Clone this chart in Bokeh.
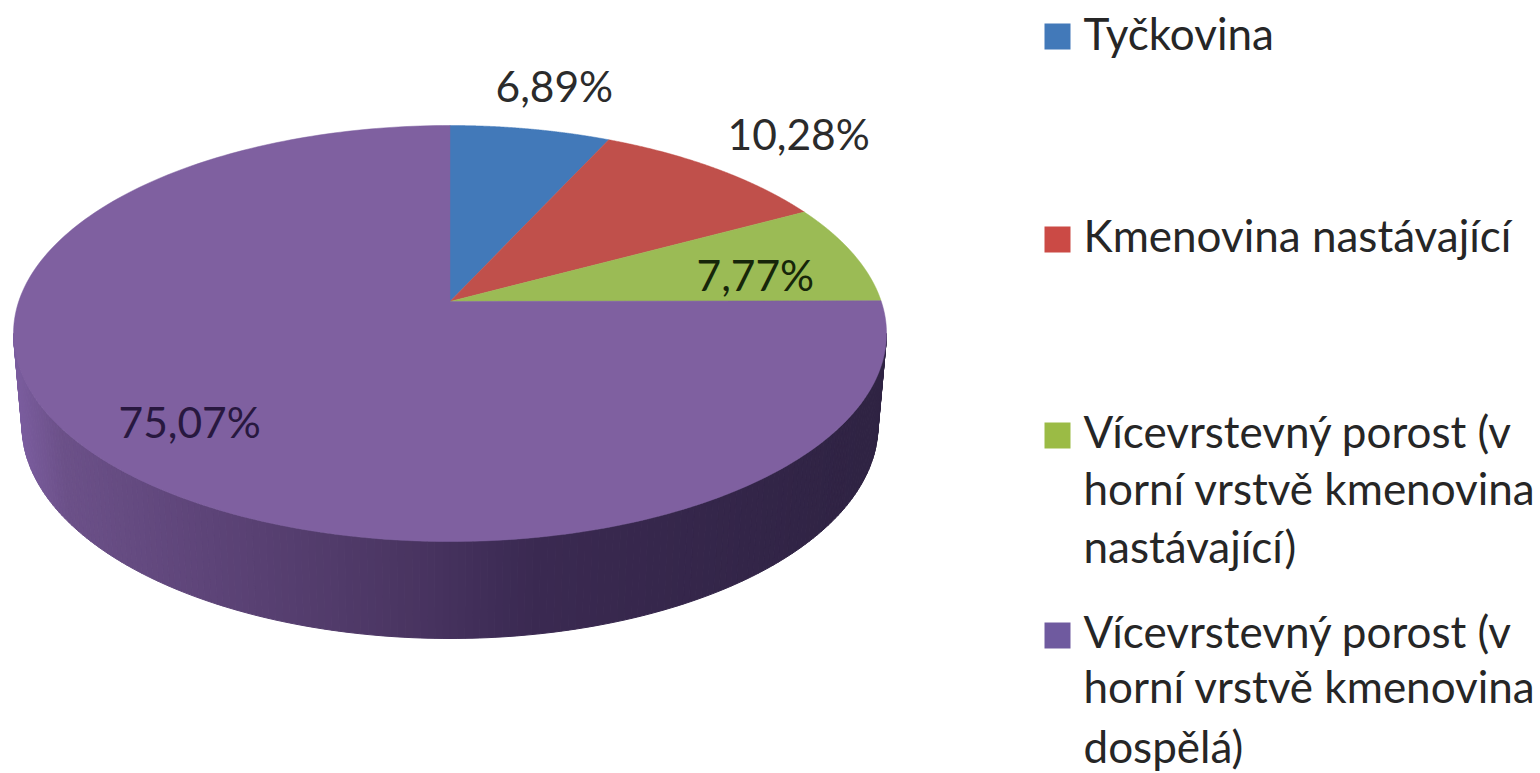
import numpy as np
from bokeh.embed import file_html
from bokeh.resources import INLINE
from bokeh.plotting import figure
from bokeh.models import Range1d
from bokeh.core.properties import value

# ---- data
categories = ["Tyčkovina", "Kmenovina nastávající",
              "Vícevrstevný porost (v horní vrstvě kmenovina nastávající)",
              "Vícevrstevný porost (v horní vrstvě kmenovina dospělá)"]
shares = [6.89, 10.28, 7.77, 75.07]
share_labels = ["6,89%", "10,28%", "7,77%", "75,07%"]
legend_lines = [["Tyčkovina"], ["Kmenovina nastávající"],
                ["Vícevrstevný porost (v", "horní vrstvě kmenovina", "nastávající)"],
                ["Vícevrstevný porost (v", "horní vrstvě kmenovina", "dospělá)"]]

# ---- style and layout
colors = ["#4279b9", "#c0504b", "#9bbb55", "#7f60a0"]
swatch = ["#4279b9", "#cb4a45", "#9bbb45", "#6f5a9f"]
label_colors = ["#2b2b2b", "#2b2b2b", "#16260a", "#28183f"]
label_x = [495, 727, 696, 118]
label_y = [85, 133, 274, 421]
legend_x, swatch_x = 1083, 1057
legend_rows = [[32], [234], [430, 487, 545], [630, 685, 745]]
swatch_y = [36, 239, 435, 635]
FONT = "Lato"
LABEL_SIZE, LEGEND_SIZE = "42.5px", "44px"
W, H = 1540, 773

# pie in perspective: top ellipse, bottom ellipse, apex offset
cx, cy, rx, ry = 449.5, 333.0, 436.5, 208.0
bx, by, brx, bry = 449.5, 425.0, 428.0, 213.0
tilt = 0.154
wall_x = [13, 60, 200, 400, 530, 880]
wall_rgb = np.array([[0x7b, 0x5d, 0x9f], [0x6c, 0x51, 0x89], [0x5e, 0x45, 0x79],
                     [0x4b, 0x36, 0x63], [0x3b, 0x2a, 0x52], [0x2f, 0x23, 0x43]])


def project(theta):
    """theta clockwise from 12 o'clock on the disc -> picture coordinates"""
    u, v = np.sin(theta), np.cos(theta)
    d = 1 + tilt * v
    return cx + rx * u * np.sqrt(1 - tilt ** 2) / d, cy - ry * (v + tilt) / d


p = figure(width=W, height=H, output_backend="svg", toolbar_location=None,
           x_range=Range1d(0, W), y_range=Range1d(H, 0), min_border=0,
           background_fill_color="white", border_fill_color="white")
p.axis.visible = False
p.grid.visible = False
p.outline_line_color = None

# side wall
t = np.radians(np.arange(0, 180.5, 1))
xs, ys, cs = [], [], []
for a, b in zip(t[:-1], t[1:]):
    xa, xb = cx + rx * np.cos(a), cx + rx * np.cos(b)
    ya, yb = cy + ry * np.sin(a), cy + ry * np.sin(b)
    xa2, xb2 = bx + brx * np.cos(a), bx + brx * np.cos(b)
    ya2, yb2 = by + bry * np.sin(a), by + bry * np.sin(b)
    xs.append([xa, xb, xb2, xa2])
    ys.append([ya, yb, yb2, ya2])
    m = (xa + xb) / 2
    rgb = [int(np.interp(m, wall_x, wall_rgb[:, i])) for i in range(3)]
    cs.append("#%02x%02x%02x" % tuple(rgb))
p.patches(xs, ys, fill_color=cs, line_color=cs, line_width=1)

# top face
edges = np.cumsum([0] + shares) / sum(shares) * 2 * np.pi
for i in range(4):
    th = np.linspace(edges[i], edges[i + 1], 240)
    px, py = project(th)
    ax, ay = cx, cy - ry * tilt
    p.patch(np.r_[ax, px], np.r_[ay, py], fill_color=colors[i], line_color=colors[i], line_width=0.5)

# value labels
p.text(label_x, label_y, text=share_labels, text_color=label_colors,
       text_font=value(FONT), text_font_size=LABEL_SIZE, text_baseline="alphabetic", text_align="left")

# legend
p.scatter([swatch_x] * 4, swatch_y, marker="square", size=26, fill_color=swatch, line_color=None)
tx, ty, tt = [], [], []
for lines, rows in zip(legend_lines, legend_rows):
    for s, y in zip(lines, rows):
        tx.append(legend_x); ty.append(y); tt.append(s)
p.text(tx, ty, text=tt, text_color="#262626", text_font=value(FONT), text_font_size=LEGEND_SIZE,
       text_baseline="alphabetic", text_align="left")

open("out.html", "w").write(file_html(p, INLINE))
